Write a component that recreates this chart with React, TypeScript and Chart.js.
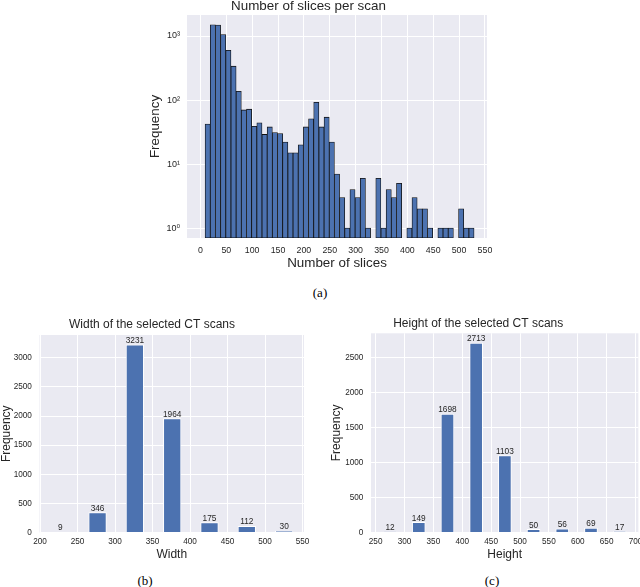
import React, { useEffect, useRef } from 'react';
import { Chart, registerables } from 'chart.js';

Chart.register(...registerables);

const FONT = '"Liberation Sans", Arial, "DejaVu Sans", sans-serif';
const SERIF = '"Liberation Serif", "Times New Roman", "DejaVu Serif", serif';
const INK = '#262626';
const PANEL_BG = '#EAEAF2';
const BLUE = '#4C72B0';

// ---------- (a) Number of slices per scan ----------
const sliceBinCenters = [
  14, 24, 34, 44, 54, 64, 74, 84, 94, 104,
  114, 124, 134, 144, 154, 164, 174, 184, 194, 204,
  214, 224, 234, 244, 254, 264, 274, 284, 294, 304,
  314, 324, 334, 344, 354, 364, 374, 384, 394, 404,
  414, 424, 434, 444, 454, 464, 474, 484, 494, 504,
  514, 524,
];
const sliceCounts = [
  42, 1500, 1480, 1050, 600, 338, 137, 70, 72, 39,
  44, 29, 38, 31, 30, 22, 15, 15, 20, 38,
  51, 92, 38, 54, 22, 7, 3, 1, 4, 3,
  6, 1, 0, 6, 1, 4, 3, 5, 0, 1,
  3, 2, 2, 1, 0, 1, 1, 1, 0, 2,
  1, 1,
];
const sliceXTicks = [0, 50, 100, 150, 200, 250, 300, 350, 400, 450, 500, 550];
const logTickValues = [1, 10, 100, 1000];
const logTickLabels = ['10\u2070', '10\u00B9', '10\u00B2', '10\u00B3'];

// ---------- (b) Width of the selected CT scans ----------
const widthBinCenters = [227, 276.75, 326.5, 376.25, 426, 475.75, 525.5];
const widthCounts = [9, 346, 3231, 1964, 175, 112, 30];
const widthXTicks = [200, 250, 300, 350, 400, 450, 500, 550];
const widthYTicks = [0, 500, 1000, 1500, 2000, 2500, 3000];

// ---------- (c) Height of the selected CT scans ----------
const heightBinCenters = [275, 324.7, 374.4, 424.1, 473.8, 523.5, 573.2, 622.9, 672.6];
const heightCounts = [12, 149, 1698, 2713, 1103, 50, 56, 69, 17];
const heightXTicks = [250, 300, 350, 400, 450, 500, 550, 600, 650, 700];
const heightYTicks = [0, 500, 1000, 1500, 2000, 2500];

const bgPlugin = {
  id: 'panelBg',
  beforeDraw(chart: any) {
    const { ctx, chartArea } = chart;
    if (!chartArea) return;
    ctx.save();
    ctx.fillStyle = PANEL_BG;
    ctx.fillRect(chartArea.left, chartArea.top, chartArea.right - chartArea.left, chartArea.bottom - chartArea.top);
    ctx.restore();
  },
};

function valueLabelPlugin(values: number[]) {
  return {
    id: 'valueLabels',
    afterDatasetsDraw(chart: any) {
      const { ctx } = chart;
      const meta = chart.getDatasetMeta(0);
      ctx.save();
      ctx.font = `8.3px ${FONT}`;
      ctx.fillStyle = INK;
      ctx.textAlign = 'center';
      ctx.textBaseline = 'alphabetic';
      meta.data.forEach((bar: any, i: number) => {
        ctx.fillText(String(values[i]), bar.x, bar.y - 1.5);
      });
      ctx.restore();
    },
  };
}

function gridOpts() {
  return { color: '#ffffff', lineWidth: 1, drawTicks: false, offset: false };
}

function sliceConfig(): any {
  return {
    type: 'bar',
    data: {
      datasets: [
        {
          data: sliceBinCenters.map((x, i) => ({ x, y: sliceCounts[i] > 0 ? sliceCounts[i] : null })),
          backgroundColor: BLUE,
          borderColor: '#111111',
          borderWidth: 0.8,
          borderSkipped: false,
          barPercentage: 1,
          categoryPercentage: 1,
        },
      ],
    },
    options: {
      responsive: false,
      animation: false,
      events: [],
      layout: { padding: { left: 0, right: 13, top: 0, bottom: 0 } },
      plugins: {
        legend: { display: false },
        tooltip: { enabled: false },
        title: {
          display: true,
          text: 'Number of slices per scan',
          color: INK,
          font: { family: FONT, size: 13.4, weight: 'normal', lineHeight: 0.7 },
          padding: { top: 2, bottom: 3.6 },
        },
      },
      scales: {
        x: {
          type: 'linear',
          min: -26,
          max: 554,
          offset: false,
          grid: gridOpts(),
          border: { display: false },
          ticks: {
            color: INK,
            font: { family: FONT, size: 8.8 },
            padding: 7,
            maxRotation: 0,
            autoSkip: false,
            callback: (v: number) => String(v),
          },
          afterBuildTicks: (s: any) => {
            s.ticks = sliceXTicks.map((value) => ({ value }));
          },
          afterFit: (s: any) => {
            s.height = 44;
            s.paddingLeft = 0;
            s.paddingRight = 0;
          },
          title: {
            display: true,
            text: 'Number of slices',
            color: INK,
            font: { family: FONT, size: 13.4 },
            padding: { top: 0, bottom: 10.4 },
          },
        },
        y: {
          type: 'logarithmic',
          min: 0.7,
          max: 2130,
          grid: gridOpts(),
          border: { display: false },
          ticks: {
            color: INK,
            font: { family: FONT, size: 9 },
            padding: 7,
            autoSkip: false,
            callback: (v: number) => {
              const i = logTickValues.indexOf(v);
              return i >= 0 ? logTickLabels[i] : null;
            },
          },
          afterBuildTicks: (s: any) => {
            s.ticks = logTickValues.map((value) => ({ value, major: true }));
          },
          afterFit: (s: any) => {
            s.width = 57;
            s.paddingTop = 0;
            s.paddingBottom = 0;
          },
          title: {
            display: true,
            text: 'Frequency',
            color: INK,
            font: { family: FONT, size: 13.4 },
            padding: { top: 17, bottom: 0 },
          },
        },
      },
    },
    plugins: [bgPlugin],
  };
}

function countConfig(p: {
  title: string;
  xTitle: string;
  centers: number[];
  counts: number[];
  xTicks: number[];
  yTicks: number[];
  xMin: number;
  xMax: number;
  yMax: number;
  barPct: number;
  yWidth: number;
  padRight: number;
  titlePadTop: number;
  titlePadBottom: number;
  yTitlePad: number;
}): any {
  return {
    type: 'bar',
    data: {
      datasets: [
        {
          data: p.centers.map((x, i) => ({ x, y: p.counts[i] })),
          backgroundColor: BLUE,
          borderColor: '#ffffff',
          borderWidth: 1,
          barPercentage: p.barPct,
          categoryPercentage: 1,
        },
      ],
    },
    options: {
      responsive: false,
      animation: false,
      events: [],
      layout: { padding: { left: 0, right: p.padRight, top: 0, bottom: 0 } },
      plugins: {
        legend: { display: false },
        tooltip: { enabled: false },
        title: {
          display: true,
          text: p.title,
          color: INK,
          font: { family: FONT, size: 12, weight: 'normal', lineHeight: 1 },
          padding: { top: p.titlePadTop, bottom: p.titlePadBottom },
        },
      },
      scales: {
        x: {
          type: 'linear',
          min: p.xMin,
          max: p.xMax,
          offset: false,
          grid: gridOpts(),
          border: { display: false },
          ticks: {
            color: INK,
            font: { family: FONT, size: 8.2 },
            padding: 4.4,
            maxRotation: 0,
            autoSkip: false,
            callback: (v: number) => String(v),
          },
          afterBuildTicks: (s: any) => {
            s.ticks = p.xTicks.map((value) => ({ value }));
          },
          afterFit: (s: any) => {
            s.height = 37.5;
            s.paddingLeft = 0;
            s.paddingRight = 0;
          },
          title: {
            display: true,
            text: p.xTitle,
            color: INK,
            font: { family: FONT, size: 12 },
            padding: { top: 0, bottom: 8.2 },
          },
        },
        y: {
          type: 'linear',
          min: 0,
          max: p.yMax,
          grid: gridOpts(),
          border: { display: false },
          ticks: {
            color: INK,
            font: { family: FONT, size: 8.2 },
            padding: 7.6,
            autoSkip: false,
            callback: (v: number) => String(v),
          },
          afterBuildTicks: (s: any) => {
            s.ticks = p.yTicks.map((value) => ({ value }));
          },
          afterFit: (s: any) => {
            s.width = p.yWidth;
            s.paddingTop = 0;
            s.paddingBottom = 0;
          },
          title: {
            display: true,
            text: 'Frequency',
            color: INK,
            font: { family: FONT, size: 12, lineHeight: 1 },
            padding: { top: p.yTitlePad, bottom: 0 },
          },
        },
      },
    },
    plugins: [bgPlugin, valueLabelPlugin(p.counts)],
  };
}

function ChartCanvas(props: { build: () => any; left: number; top: number; width: number; height: number }) {
  const ref = useRef<HTMLCanvasElement>(null);
  useEffect(() => {
    const chart = new Chart(ref.current as HTMLCanvasElement, props.build());
    return () => chart.destroy();
  }, []);
  return (
    <canvas
      ref={ref}
      width={props.width}
      height={props.height}
      style={{ position: 'absolute', left: props.left, top: props.top, width: props.width, height: props.height }}
    />
  );
}

function Caption(props: { text: string; cx: number; top: number }) {
  return (
    <div
      style={{
        position: 'absolute',
        left: props.cx - 30,
        top: props.top,
        width: 60,
        textAlign: 'center',
        fontFamily: SERIF,
        fontSize: 13,
        fontWeight: 'normal',
        lineHeight: '15px',
        color: '#000000',
      }}
    >
      {props.text}
    </div>
  );
}

export default function App() {
  return (
    <div style={{ position: 'absolute', left: 0, top: 0, width: 640, height: 587, background: '#ffffff', overflow: 'hidden' }}>
      <ChartCanvas build={sliceConfig} left={130} top={0} width={370} height={282} />
      <Caption text="(a)" cx={320} top={285} />
      <ChartCanvas
        build={() =>
          countConfig({
            title: 'Width of the selected CT scans',
            xTitle: 'Width',
            centers: widthBinCenters,
            counts: widthCounts,
            xTicks: widthXTicks,
            yTicks: widthYTicks,
            xMin: 199.33,
            xMax: 552,
            yMax: 3392.5,
            barPct: 0.49,
            yWidth: 39.5,
            padRight: 8,
            titlePadTop: 4.1,
            titlePadBottom: 3.9,
            yTitlePad: 0.5,
          })
        }
        left={0}
        top={315}
        width={312}
        height={255}
      />
      <Caption text="(b)" cx={145} top={573} />
      <ChartCanvas
        build={() =>
          countConfig({
            title: 'Height of the selected CT scans',
            xTitle: 'Height',
            centers: heightBinCenters,
            counts: heightCounts,
            xTicks: heightXTicks,
            yTicks: heightYTicks,
            xMin: 242,
            xMax: 705,
            yMax: 2848.7,
            barPct: 0.475,
            yWidth: 53,
            padRight: 1.6,
            titlePadTop: 2.5,
            titlePadBottom: 3.8,
            yTitlePad: 12.7,
          })
        }
        left={318}
        top={315}
        width={322}
        height={255}
      />
      <Caption text="(c)" cx={492} top={573} />
    </div>
  );
}
